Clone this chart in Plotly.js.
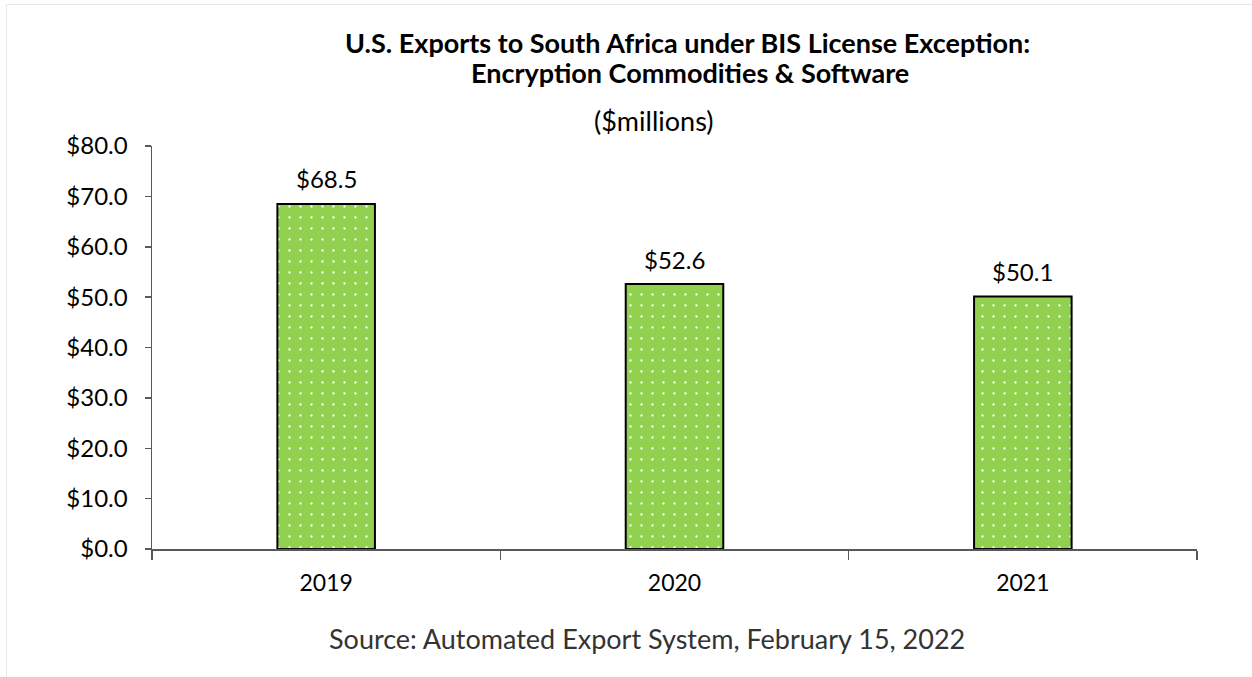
<!DOCTYPE html>
<html>
<head>
<meta charset="utf-8">
<script src="https://cdn.plot.ly/plotly-3.0.1.min.js"></script>
<style>
html,body{margin:0;padding:0;background:#fff;}
#wrap{position:relative;width:1252px;height:677px;overflow:hidden;}
#chart{width:1252px;height:677px;}
#frame{position:absolute;left:6px;top:4px;right:-10px;bottom:-10px;border-left:1px solid #e8e8e8;border-top:1px solid #e8e8e8;pointer-events:none;}
</style>
</head>
<body>
<div id="wrap"><div id="chart"></div><div id="frame"></div></div>
<script>
const years = ['2019', '2020', '2021'];
const exportsMillions = [68.5, 52.6, 50.1];
const titleLines = ['U.S. Exports to South Africa under BIS License Exception:', 'Encryption Commodities & Software'];
const unitsLabel = '($millions)';
const sourceNote = 'Source: Automated Export System, February 15, 2022';

const FONT = 'Lato, "Open Sans", sans-serif';

const trace = {
  type: 'bar',
  x: years,
  y: exportsMillions,
  marker: {
    color: '#92D050',
    line: {color: '#000000', width: 2},
    pattern: {shape: '.', bgcolor: '#92D050', fgcolor: '#ffffff', size: 11, solidity: 0.035, fillmode: 'replace'}
  },
  hoverinfo: 'skip'
};

// category axis: annotation x uses the category's serial index
const valueLabels = years.map((yr, i) => ({
  text: '$' + exportsMillions[i].toFixed(1),
  xref: 'x', yref: 'y', x: i, y: exportsMillions[i],
  yshift: 25, xanchor: 'center', yanchor: 'middle', showarrow: false,
  font: {family: FONT, size: 24, color: '#000'}
}));

const layout = {
  width: 1252, height: 677,
  margin: {l: 152, r: 55, t: 146, b: 128},
  paper_bgcolor: '#fff', plot_bgcolor: '#fff',
  showlegend: false,
  bargap: 0.72,
  font: {family: FONT, size: 22, color: '#000'},
  xaxis: {
    type: 'category',
    categoryarray: years, categoryorder: 'array',
    range: [-0.5, years.length - 0.5],
    showline: true, linecolor: '#595959', linewidth: 1.5,
    ticks: 'outside', tickson: 'boundaries', ticklen: 9, tickcolor: '#595959', tickwidth: 1.5,
    ticklabelstandoff: 13, tickangle: 0,
    tickfont: {family: FONT, size: 23, color: '#000'},
    showgrid: false, zeroline: false
  },
  yaxis: {
    range: [0, 80], dtick: 10, tickprefix: '$', tickformat: '.1f',
    showline: true, linecolor: '#595959', linewidth: 1.5,
    ticks: 'outside', ticklen: 6, tickcolor: '#595959', tickwidth: 1.5,
    ticklabelstandoff: 12,
    tickfont: {family: FONT, size: 24, color: '#000'},
    showgrid: false, zeroline: false
  },
  annotations: [
    {text: '<b>' + titleLines[0] + '</b>', xref: 'paper', yref: 'paper', x: 0.5124, y: 1, yshift: 104, xanchor: 'center', yanchor: 'middle', showarrow: false, font: {family: FONT, size: 27, color: '#000'}},
    {text: '<b>' + titleLines[1] + '</b>', xref: 'paper', yref: 'paper', x: 0.515, y: 1, yshift: 74, xanchor: 'center', yanchor: 'middle', showarrow: false, font: {family: FONT, size: 27, color: '#000'}},
    {text: unitsLabel, xref: 'paper', yref: 'paper', x: 0.480, y: 1, yshift: 26, xanchor: 'center', yanchor: 'middle', showarrow: false, font: {family: FONT, size: 27, color: '#000'}},
    {text: sourceNote, xref: 'paper', yref: 'paper', x: 0.4737, y: 0, yshift: -89, xanchor: 'center', yanchor: 'middle', showarrow: false, font: {family: FONT, size: 27, color: '#333'}}
  ].concat(valueLabels)
};

Plotly.newPlot('chart', [trace], layout, {displayModeBar: false, staticPlot: true});
</script>
</body>
</html>
